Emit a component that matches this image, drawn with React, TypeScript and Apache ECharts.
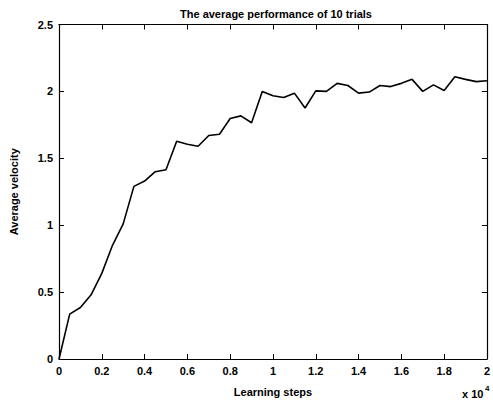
import React, { useEffect, useRef } from "react";
import * as echarts from "echarts";

const steps = [
  0, 500, 1000, 1500, 2000, 2500, 3000, 3500, 4000, 4500, 5000, 5500, 6000, 6500,
  7000, 7500, 8000, 8500, 9000, 9500, 10000, 10500, 11000, 11500, 12000, 12500,
  13000, 13500, 14000, 14500, 15000, 15500, 16000, 16500, 17000, 17500, 18000,
  18500, 19000, 19500, 20000,
];
const velocity = [
  0, 0.335, 0.385, 0.48, 0.64, 0.85, 1.01, 1.29, 1.33, 1.4, 1.415, 1.627, 1.605, 1.59,
  1.67, 1.68, 1.797, 1.817, 1.766, 2.0, 1.967, 1.955, 1.987, 1.876, 2.004, 2.0,
  2.06, 2.044, 1.987, 1.995, 2.044, 2.036, 2.06, 2.09, 2.0, 2.049, 2.007,
  2.11, 2.09, 2.073, 2.08,
];
const titleText = "The average performance of 10 trials";
const xName = "Learning steps";
const yName = "Average velocity";

const FONT = "'Liberation Sans', Arial, sans-serif";

export default function App() {
  const ref = useRef<HTMLDivElement>(null);
  useEffect(() => {
    if (!ref.current) return;
    const chart = echarts.init(ref.current, null, { renderer: "svg" });
    const tickStyle = { show: true, inside: true, length: 5, lineStyle: { color: "#000", width: 1 } };
    const lineStyle = { show: true, onZero: false, lineStyle: { color: "#000", width: 1.2 } };
    chart.setOption({
      animation: false,
      backgroundColor: "#fff",
      textStyle: { fontFamily: FONT, color: "#000" },
      title: {
        text: titleText,
        left: 271,
        top: 3,
        textAlign: "center",
        textStyle: { fontFamily: FONT, fontSize: 11, fontWeight: "bold", color: "#000" },
      },
      grid: { left: 51, right: 2, top: 24.5, bottom: 40, containLabel: false },
      xAxis: [
        {
          type: "value",
          min: 0,
          max: 20000,
          interval: 2000,
          position: "bottom",
          axisLine: lineStyle,
          axisTick: tickStyle,
          splitLine: { show: false },
          axisLabel: {
            formatter: (v: number) => String(+(v / 10000).toFixed(1)),
            fontFamily: FONT,
            fontSize: 11,
            fontWeight: "bold",
            color: "#000",
            margin: 6,
          },
          name: xName,
          nameLocation: "middle",
          nameGap: 27,
          nameTextStyle: { fontFamily: FONT, fontSize: 11, fontWeight: "bold", color: "#000" },
        },
        {
          type: "value",
          min: 0,
          max: 20000,
          interval: 2000,
          position: "top",
          axisLine: lineStyle,
          axisTick: tickStyle,
          axisLabel: { show: false },
          splitLine: { show: false },
        },
      ],
      yAxis: [
        {
          type: "value",
          min: 0,
          max: 2.5,
          interval: 0.5,
          position: "left",
          axisLine: lineStyle,
          axisTick: tickStyle,
          splitLine: { show: false },
          axisLabel: {
            formatter: (v: number) => String(v),
            fontFamily: FONT,
            fontSize: 11,
            fontWeight: "bold",
            color: "#000",
            margin: 6,
          },
          name: yName,
          nameLocation: "middle",
          nameGap: 40,
          nameRotate: 90,
          nameTextStyle: { fontFamily: FONT, fontSize: 11, fontWeight: "bold", color: "#000" },
        },
        {
          type: "value",
          min: 0,
          max: 2.5,
          interval: 0.5,
          position: "right",
          axisLine: lineStyle,
          axisTick: tickStyle,
          axisLabel: { show: false },
          splitLine: { show: false },
        },
      ],
      graphic: [
        {
          type: "text",
          left: 462,
          top: 388,
          style: { text: "x 10", fontFamily: FONT, fontSize: 11, fontWeight: "bold", fill: "#000" },
        },
        {
          type: "text",
          left: 485,
          top: 384,
          style: { text: "4", fontFamily: FONT, fontSize: 8, fontWeight: "bold", fill: "#000" },
        },
      ],
      series: [
        {
          type: "line",
          xAxisIndex: 0,
          yAxisIndex: 0,
          data: steps.map((s, i) => [s, velocity[i]]),
          showSymbol: false,
          symbol: "none",
          lineStyle: { color: "#000", width: 1.6 },
        },
      ],
    });
    return () => chart.dispose();
  }, []);
  return (
    <div
      ref={ref}
      style={{ position: "fixed", left: 0, top: 0, width: 493, height: 402, background: "#fff" }}
    />
  );
}
